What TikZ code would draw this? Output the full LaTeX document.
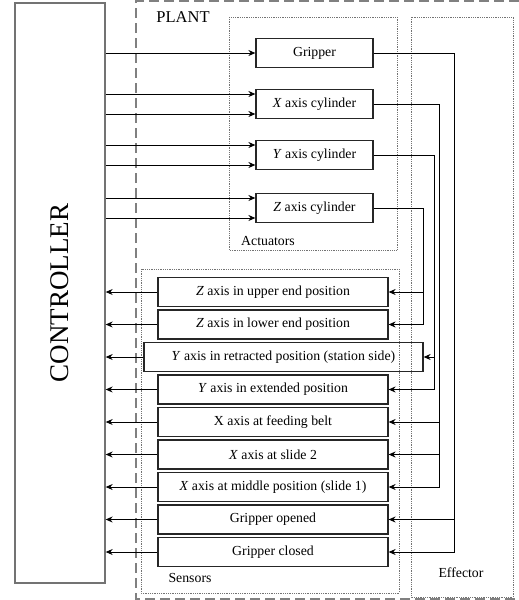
\documentclass[tikz,border=0pt]{standalone}
\usepackage{fontspec}
\setmainfont{Liberation Serif}
\usetikzlibrary{arrows.meta,calc}

\begin{document}
\begin{tikzpicture}[
      x=1pt,y=-1pt,
      >={Stealth[length=7pt,width=6pt]},
      blk/.style={draw=black!85,line width=1.2pt,minimum height=29pt,
        inner sep=0pt,font=\fontsize{13.8}{16}\selectfont},
      act/.style={blk,minimum width=117pt},
      sen/.style={blk,minimum width=230pt},
      grp/.style={draw=black!55,line width=0.6pt,
        dash pattern=on 0.6pt off 1.2pt},
      lbl/.style={inner sep=0pt,font=\fontsize{13.8}{16}\selectfont},
      sig/.style={draw=black,line width=1pt,->}
    ]
    \useasboundingbox (0,0) rectangle (519,600);
    % plant boundary and the three groups
    \draw[draw=black!50,line width=1.5pt,dash pattern=on 10pt off 5pt]
      (519,1) -| (136,599) -- (519,599);
    \draw[grp] (229,17) rectangle (397,250);
    \draw[grp] (141,269) rectangle (399,593);
    \draw[grp] (411,17) rectangle (513,597);
    \node[lbl,font=\fontsize{16.5}{18}\selectfont] (plant) at (183,17) {PLANT};
    \node[lbl] (actlbl) at (268,241) {Actuators};
    \node[lbl] (senlbl) at (190,578) {Sensors};
    \node[lbl] (efflbl) at (461,573) {Effector};
    % controller
    \node[draw=black!55,line width=1.3pt,minimum width=90pt,
      minimum height=580pt,inner sep=0pt,
      label={[rotate=90,font=\fontsize{27}{30}\selectfont]center:CONTROLLER}]
      (ctrl) at (60,293) {};
    % actuators
    \node[act] (grip) at (314.5,53) {Gripper};
    \node[act] (xcyl) at (314.5,104) {\textit{X} axis cylinder};
    \node[act] (ycyl) at (314.5,155) {\textit{Y} axis cylinder};
    \node[act] (zcyl) at (314.5,208) {\textit{Z} axis cylinder};
    % sensors
    \node[sen] (zup) at (273,292) {\textit{Z} axis in upper end position};
    \node[sen] (zlow) at (273,324.5) {\textit{Z} axis in lower end position};
    \node[sen,minimum width=279pt] (yret) at (283.5,357)
      {\textit{Y} axis in retracted position (station side)};
    \node[sen] (yext) at (273,389.5) {\textit{Y} axis in extended position};
    \node[sen] (xbelt) at (273,422) {X axis at feeding belt};
    \node[sen] (xsl) at (273,454.5) {\textit{X} axis at slide 2};
    \node[sen] (xmid) at (273,487) {\textit{X} axis at middle position (slide 1)};
    \node[sen] (gopen) at (273,519.5) {Gripper opened};
    \node[sen] (gclose) at (273,552) {Gripper closed};
    % controller outputs
    \draw[sig] (ctrl.east |- grip.west) -- (grip.west);
    \foreach \a in {xcyl,ycyl,zcyl}
      \foreach \d in {-10,10}
        \draw[sig] ($(ctrl.east |- \a.west)+(0,\d)$) -- ($(\a.west)+(0,\d)$);
    % controller inputs
    \foreach \s in {zup,zlow,yret,yext,xbelt,xsl,xmid,gopen,gclose}
      \draw[sig] (\s.west) -- (\s.west -| ctrl.east);
    % effector: actuator to sensor
    \coordinate (zv) at (423,0);
    \coordinate (yv) at (434,0);
    \coordinate (xv) at (439,0);
    \coordinate (gv) at (454,0);
    \draw[sig] (zcyl.east) -| (zv |- zlow.east) -- (zlow.east);
    \draw[sig] (zv |- zup.east) -- (zup.east);
    \draw[sig] (ycyl.east) -| (yv |- yext.east) -- (yext.east);
    \draw[sig] (yv |- yret.east) -- (yret.east);
    \draw[sig] (xcyl.east) -| (xv |- xmid.east) -- (xmid.east);
    \draw[sig] (xv |- xbelt.east) -- (xbelt.east);
    \draw[sig] (xv |- xsl.east) -- (xsl.east);
    \draw[sig] (grip.east) -| (gv |- gclose.east) -- (gclose.east);
    \draw[sig] (gv |- gopen.east) -- (gopen.east);
  \end{tikzpicture}
\end{document}
